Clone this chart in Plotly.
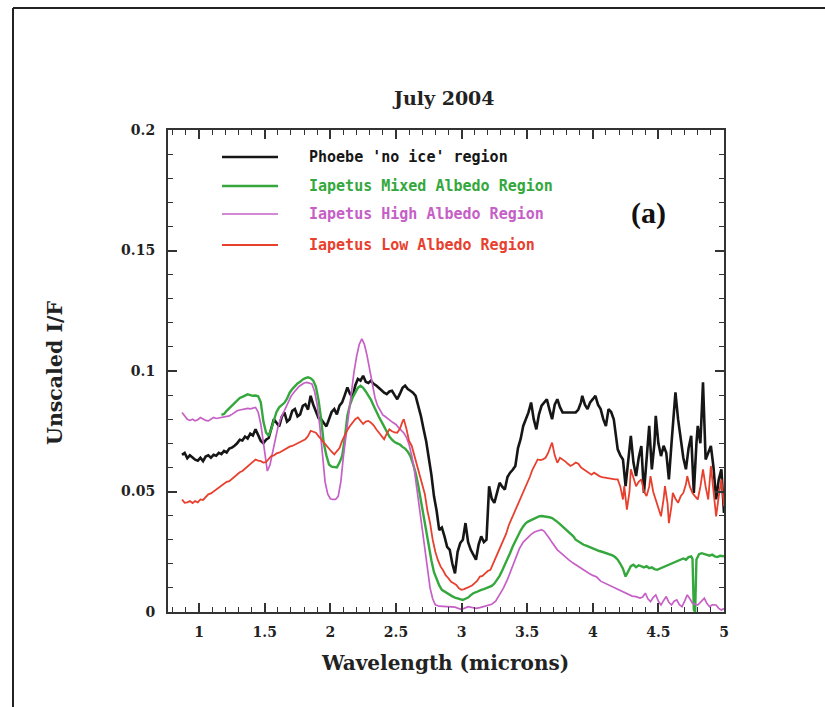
import plotly.graph_objects as go

# ---- Phoebe 'no ice' region ----
phoebe_wl = [0.87, 0.89, 0.91, 0.93, 0.95, 0.97, 0.99, 1.01, 1.03, 1.05, 1.07, 1.09, 1.11, 1.13, 1.15,
             1.17, 1.19, 1.21, 1.23, 1.25, 1.27, 1.29, 1.31, 1.33, 1.35, 1.37, 1.39, 1.41, 1.43, 1.45,
             1.47, 1.49, 1.51, 1.53, 1.55, 1.57, 1.59, 1.61, 1.63, 1.65, 1.67, 1.69, 1.71, 1.73, 1.75,
             1.77, 1.79, 1.81, 1.83, 1.85, 1.87, 1.89, 1.91, 1.93, 1.95, 1.97, 1.99, 2.01, 2.03, 2.05,
             2.07, 2.09, 2.11, 2.13, 2.15, 2.17, 2.19, 2.21, 2.23, 2.25, 2.27, 2.29, 2.31, 2.33, 2.35,
             2.37, 2.39, 2.41, 2.43, 2.45, 2.47, 2.49, 2.51, 2.53, 2.55, 2.57, 2.59, 2.61, 2.63, 2.65,
             2.67, 2.69, 2.71, 2.73, 2.75, 2.77, 2.79, 2.81, 2.83, 2.85, 2.87, 2.89, 2.91, 2.93, 2.95,
             2.97, 2.99, 3.01, 3.03, 3.05, 3.07, 3.09, 3.11, 3.13, 3.15, 3.17, 3.19, 3.21, 3.23, 3.25,
             3.27, 3.29, 3.31, 3.33, 3.35, 3.37, 3.39, 3.41, 3.43, 3.45, 3.47, 3.49, 3.51, 3.53, 3.55,
             3.57, 3.59, 3.61, 3.63, 3.65, 3.67, 3.69, 3.71, 3.73, 3.75, 3.77, 3.79, 3.83, 3.87, 3.89,
             3.91, 3.92, 3.94, 3.96, 3.98, 4.00, 4.02, 4.04, 4.06, 4.08, 4.10, 4.12, 4.14, 4.16, 4.19,
             4.21, 4.23, 4.25, 4.27, 4.29, 4.31, 4.33, 4.35, 4.37, 4.39, 4.41, 4.43, 4.45, 4.47, 4.48,
             4.50, 4.52, 4.54, 4.56, 4.58, 4.60, 4.62, 4.63, 4.65, 4.67, 4.69, 4.71, 4.73, 4.75, 4.77,
             4.79, 4.80, 4.82, 4.84, 4.86, 4.88, 4.90, 4.92, 4.94, 4.96, 4.98, 5.00]
phoebe_if = [0.0652, 0.0660, 0.0638, 0.0650, 0.0641, 0.0632, 0.0628, 0.0640, 0.0626, 0.0645, 0.0650, 0.0640, 0.0652, 0.0648, 0.0660,
             0.0655, 0.0668, 0.0662, 0.0678, 0.0682, 0.0690, 0.0700, 0.0715, 0.0712, 0.0728, 0.0720, 0.0740, 0.0732, 0.0758, 0.0735,
             0.0710, 0.0700, 0.0715, 0.0722, 0.0760, 0.0800, 0.0785, 0.0770, 0.0810, 0.0828, 0.0790, 0.0800, 0.0835, 0.0842, 0.0812,
             0.0820, 0.0855, 0.0862, 0.0840, 0.0897, 0.0860, 0.0828, 0.0805, 0.0800, 0.0785, 0.0770, 0.0800, 0.0830, 0.0842, 0.0820,
             0.0856, 0.0870, 0.0900, 0.0932, 0.0905, 0.0890, 0.0940, 0.0967, 0.0960, 0.0980, 0.0955, 0.0950, 0.0960, 0.0946, 0.0940,
             0.0928, 0.0920, 0.0910, 0.0904, 0.0915, 0.0918, 0.0900, 0.0883, 0.0905, 0.0930, 0.0939, 0.0925, 0.0918, 0.0910, 0.0897,
             0.0860, 0.0814, 0.0760, 0.0710, 0.0640, 0.0570, 0.0480, 0.0420, 0.0340, 0.0350, 0.0314, 0.0270, 0.0258, 0.0200, 0.0160,
             0.0250, 0.0286, 0.0300, 0.0369, 0.0290, 0.0258, 0.0240, 0.0217, 0.0280, 0.0314, 0.0290, 0.0300, 0.0522, 0.0470, 0.0453,
             0.0500, 0.0536, 0.0520, 0.0508, 0.0560, 0.0578, 0.0590, 0.0606, 0.0680, 0.0717, 0.0772, 0.0800, 0.0828, 0.0869, 0.0800,
             0.0758, 0.0820, 0.0856, 0.0870, 0.0883, 0.0840, 0.0800, 0.0860, 0.0883, 0.0850, 0.0828, 0.0828, 0.0828, 0.0828, 0.0840,
             0.0870, 0.0897, 0.0860, 0.0842, 0.0870, 0.0883, 0.0897, 0.0860, 0.0842, 0.0800, 0.0772, 0.0842, 0.0830, 0.0800, 0.0675,
             0.0650, 0.0633, 0.0522, 0.0640, 0.0731, 0.0620, 0.0564, 0.0640, 0.0689, 0.0494, 0.0640, 0.0772, 0.0592, 0.0700, 0.0814,
             0.0700, 0.0647, 0.0690, 0.0661, 0.0550, 0.0700, 0.0850, 0.0911, 0.0800, 0.0717, 0.0640, 0.0592, 0.0680, 0.0731, 0.0494,
             0.0700, 0.0772, 0.0700, 0.0953, 0.0633, 0.0660, 0.0689, 0.0600, 0.0467, 0.0550, 0.0592, 0.0411]

# ---- Iapetus Mixed Albedo Region ----
mixed_wl = [1.17, 1.19, 1.21, 1.23, 1.25, 1.27, 1.29, 1.31, 1.33, 1.35, 1.37, 1.39, 1.41, 1.43, 1.45,
            1.47, 1.49, 1.51, 1.53, 1.55, 1.57, 1.59, 1.61, 1.63, 1.65, 1.67, 1.69, 1.71, 1.73, 1.75,
            1.77, 1.79, 1.81, 1.83, 1.85, 1.87, 1.89, 1.91, 1.93, 1.95, 1.97, 1.99, 2.01, 2.03, 2.05,
            2.07, 2.09, 2.11, 2.13, 2.15, 2.17, 2.19, 2.21, 2.23, 2.25, 2.27, 2.29, 2.31, 2.33, 2.35,
            2.37, 2.39, 2.41, 2.43, 2.45, 2.47, 2.49, 2.51, 2.53, 2.55, 2.57, 2.59, 2.61, 2.63, 2.65,
            2.67, 2.69, 2.71, 2.73, 2.75, 2.77, 2.79, 2.81, 2.83, 2.85, 2.87, 2.89, 2.91, 2.93, 2.95,
            2.97, 2.99, 3.01, 3.03, 3.05, 3.07, 3.09, 3.11, 3.13, 3.15, 3.17, 3.19, 3.21, 3.23, 3.25,
            3.27, 3.29, 3.31, 3.33, 3.35, 3.37, 3.39, 3.41, 3.43, 3.45, 3.47, 3.49, 3.51, 3.53, 3.55,
            3.57, 3.59, 3.61, 3.63, 3.65, 3.67, 3.69, 3.71, 3.73, 3.75, 3.77, 3.79, 3.81, 3.83, 3.85,
            3.87, 3.89, 3.91, 3.93, 3.95, 3.97, 3.99, 4.01, 4.03, 4.05, 4.07, 4.09, 4.11, 4.13, 4.15,
            4.17, 4.19, 4.21, 4.23, 4.25, 4.27, 4.29, 4.31, 4.33, 4.35, 4.37, 4.39, 4.41, 4.43, 4.45,
            4.47, 4.49, 4.51, 4.53, 4.55, 4.57, 4.59, 4.61, 4.63, 4.65, 4.67, 4.69, 4.71, 4.73, 4.75,
            4.76, 4.77, 4.78, 4.79, 4.81, 4.83, 4.85, 4.87, 4.89, 4.91, 4.93, 4.95, 4.97, 5.00]
mixed_if = [0.0818, 0.0822, 0.0835, 0.0845, 0.0856, 0.0865, 0.0878, 0.0888, 0.0893, 0.0898, 0.0903, 0.0900, 0.0897, 0.0898, 0.0895,
            0.0870, 0.0790, 0.0745, 0.0731, 0.0760, 0.0800, 0.0830, 0.0849, 0.0860, 0.0868, 0.0885, 0.0910, 0.0925, 0.0938, 0.0948,
            0.0955, 0.0965, 0.0970, 0.0974, 0.0970, 0.0960, 0.0935, 0.0880, 0.0800, 0.0700, 0.0650, 0.0612, 0.0603, 0.0600, 0.0600,
            0.0620, 0.0647, 0.0720, 0.0814, 0.0860, 0.0890, 0.0910, 0.0930, 0.0939, 0.0930, 0.0915, 0.0900, 0.0880, 0.0856, 0.0830,
            0.0810, 0.0790, 0.0770, 0.0744, 0.0728, 0.0715, 0.0705, 0.0700, 0.0695, 0.0685, 0.0678, 0.0665, 0.0647, 0.0615, 0.0578,
            0.0525, 0.0460, 0.0395, 0.0330, 0.0270, 0.0215, 0.0165, 0.0138, 0.0110, 0.0092, 0.0085, 0.0076, 0.0070, 0.0065, 0.0060,
            0.0057, 0.0053, 0.0050, 0.0055, 0.0060, 0.0070, 0.0078, 0.0082, 0.0088, 0.0092, 0.0095, 0.0100, 0.0104, 0.0108, 0.0118,
            0.0132, 0.0150, 0.0172, 0.0195, 0.0215, 0.0245, 0.0272, 0.0295, 0.0318, 0.0338, 0.0355, 0.0369, 0.0376, 0.0381, 0.0386,
            0.0392, 0.0397, 0.0398, 0.0397, 0.0396, 0.0393, 0.0390, 0.0383, 0.0374, 0.0365, 0.0355, 0.0345, 0.0338, 0.0328, 0.0315,
            0.0300, 0.0292, 0.0285, 0.0279, 0.0275, 0.0270, 0.0265, 0.0262, 0.0258, 0.0253, 0.0250, 0.0247, 0.0244, 0.0240, 0.0235,
            0.0228, 0.0217, 0.0200, 0.0180, 0.0147, 0.0170, 0.0190, 0.0196, 0.0186, 0.0194, 0.0189, 0.0185, 0.0190, 0.0182, 0.0185,
            0.0178, 0.0175, 0.0180, 0.0184, 0.0189, 0.0192, 0.0198, 0.0203, 0.0210, 0.0214, 0.0217, 0.0222, 0.0217, 0.0228, 0.0231,
            0.0220, 0.0010, 0.0000, 0.0218, 0.0240, 0.0244, 0.0240, 0.0237, 0.0234, 0.0238, 0.0231, 0.0228, 0.0233, 0.0231]

# ---- Iapetus High Albedo Region ----
high_wl = [0.87, 0.89, 0.91, 0.93, 0.95, 0.97, 0.99, 1.01, 1.03, 1.05, 1.07, 1.09, 1.11, 1.13, 1.15,
           1.17, 1.19, 1.21, 1.23, 1.25, 1.27, 1.29, 1.31, 1.33, 1.35, 1.37, 1.39, 1.41, 1.43, 1.45,
           1.47, 1.49, 1.51, 1.52, 1.54, 1.56, 1.58, 1.60, 1.62, 1.64, 1.66, 1.68, 1.70, 1.72, 1.74,
           1.76, 1.78, 1.80, 1.82, 1.84, 1.86, 1.88, 1.90, 1.92, 1.94, 1.96, 1.98, 2.00, 2.02, 2.04,
           2.06, 2.08, 2.10, 2.12, 2.14, 2.16, 2.18, 2.20, 2.22, 2.24, 2.26, 2.28, 2.30, 2.32, 2.34,
           2.36, 2.38, 2.40, 2.42, 2.44, 2.46, 2.48, 2.50, 2.52, 2.54, 2.56, 2.58, 2.60, 2.62, 2.64,
           2.66, 2.68, 2.70, 2.72, 2.74, 2.76, 2.78, 2.80, 2.83, 2.87, 2.91, 2.95, 2.99, 3.02, 3.05,
           3.08, 3.11, 3.14, 3.17, 3.20, 3.23, 3.26, 3.29, 3.32, 3.35, 3.38, 3.41, 3.44, 3.47, 3.50,
           3.53, 3.56, 3.59, 3.61, 3.63, 3.65, 3.67, 3.69, 3.71, 3.73, 3.75, 3.77, 3.79, 3.82, 3.85,
           3.88, 3.91, 3.94, 3.97, 4.00, 4.03, 4.06, 4.09, 4.12, 4.15, 4.18, 4.21, 4.24, 4.27, 4.30,
           4.33, 4.36, 4.38, 4.40, 4.42, 4.44, 4.46, 4.48, 4.50, 4.52, 4.54, 4.56, 4.58, 4.60, 4.62,
           4.64, 4.66, 4.68, 4.70, 4.72, 4.74, 4.76, 4.78, 4.80, 4.82, 4.85, 4.87, 4.89, 4.91, 4.94,
           4.96, 4.98, 5.00]
high_if = [0.0828, 0.0815, 0.0800, 0.0795, 0.0800, 0.0793, 0.0798, 0.0807, 0.0800, 0.0795, 0.0793, 0.0800, 0.0807, 0.0803, 0.0805,
           0.0807, 0.0810, 0.0812, 0.0814, 0.0820, 0.0828, 0.0835, 0.0838, 0.0840, 0.0842, 0.0845, 0.0843, 0.0847, 0.0849, 0.0830,
           0.0780, 0.0703, 0.0620, 0.0585, 0.0610, 0.0660, 0.0717, 0.0765, 0.0800, 0.0825, 0.0845, 0.0870, 0.0895, 0.0910, 0.0925,
           0.0935, 0.0943, 0.0950, 0.0953, 0.0950, 0.0946, 0.0915, 0.0860, 0.0770, 0.0640, 0.0540, 0.0490, 0.0470, 0.0467, 0.0467,
           0.0480, 0.0540, 0.0647, 0.0740, 0.0814, 0.0900, 0.0994, 0.1060, 0.1110, 0.1133, 0.1110, 0.1064, 0.1000, 0.0939, 0.0890,
           0.0856, 0.0835, 0.0818, 0.0810, 0.0800, 0.0793, 0.0785, 0.0778, 0.0765, 0.0755, 0.0743, 0.0725, 0.0695, 0.0650, 0.0590,
           0.0510, 0.0430, 0.0350, 0.0260, 0.0180, 0.0100, 0.0055, 0.0030, 0.0024, 0.0022, 0.0022, 0.0020, 0.0012, 0.0015, 0.0022,
           0.0020, 0.0015, 0.0018, 0.0022, 0.0028, 0.0032, 0.0045, 0.0070, 0.0100, 0.0135, 0.0178, 0.0220, 0.0262, 0.0290, 0.0308,
           0.0322, 0.0333, 0.0340, 0.0342, 0.0335, 0.0322, 0.0305, 0.0288, 0.0272, 0.0258, 0.0248, 0.0238, 0.0228, 0.0215, 0.0203,
           0.0192, 0.0182, 0.0172, 0.0161, 0.0152, 0.0145, 0.0128, 0.0120, 0.0112, 0.0104, 0.0096, 0.0090, 0.0080, 0.0071, 0.0066,
           0.0064, 0.0058, 0.0062, 0.0078, 0.0055, 0.0043, 0.0060, 0.0071, 0.0045, 0.0029, 0.0048, 0.0064, 0.0040, 0.0029, 0.0045,
           0.0050, 0.0030, 0.0022, 0.0045, 0.0071, 0.0055, 0.0036, 0.0032, 0.0029, 0.0040, 0.0057, 0.0035, 0.0022, 0.0030, 0.0029,
           0.0015, 0.0008, 0.0015]

# ---- Iapetus Low Albedo Region ----
low_wl = [0.87, 0.89, 0.91, 0.93, 0.95, 0.97, 0.99, 1.01, 1.03, 1.05, 1.07, 1.09, 1.11, 1.13, 1.15,
          1.17, 1.19, 1.21, 1.23, 1.25, 1.27, 1.29, 1.31, 1.33, 1.35, 1.37, 1.39, 1.41, 1.43, 1.45,
          1.47, 1.49, 1.51, 1.53, 1.55, 1.57, 1.59, 1.61, 1.63, 1.65, 1.67, 1.69, 1.71, 1.73, 1.75,
          1.77, 1.79, 1.81, 1.83, 1.85, 1.87, 1.89, 1.91, 1.93, 1.95, 1.97, 1.99, 2.01, 2.03, 2.05,
          2.07, 2.09, 2.11, 2.13, 2.15, 2.17, 2.19, 2.21, 2.23, 2.25, 2.27, 2.29, 2.31, 2.33, 2.35,
          2.37, 2.39, 2.41, 2.43, 2.45, 2.47, 2.49, 2.51, 2.53, 2.55, 2.56, 2.58, 2.60, 2.62, 2.64,
          2.66, 2.68, 2.70, 2.72, 2.74, 2.76, 2.78, 2.80, 2.82, 2.84, 2.86, 2.88, 2.90, 2.92, 2.94,
          2.96, 2.98, 3.00, 3.02, 3.04, 3.06, 3.08, 3.10, 3.12, 3.14, 3.16, 3.18, 3.20, 3.22, 3.24,
          3.26, 3.28, 3.30, 3.32, 3.34, 3.36, 3.38, 3.40, 3.42, 3.44, 3.46, 3.48, 3.50, 3.52, 3.54,
          3.56, 3.58, 3.60, 3.62, 3.64, 3.66, 3.68, 3.69, 3.71, 3.73, 3.75, 3.77, 3.79, 3.81, 3.83,
          3.85, 3.87, 3.89, 3.91, 3.93, 3.95, 3.97, 3.99, 4.01, 4.03, 4.05, 4.07, 4.09, 4.11, 4.13,
          4.15, 4.17, 4.19, 4.21, 4.23, 4.24, 4.26, 4.28, 4.29, 4.31, 4.33, 4.35, 4.37, 4.39, 4.41,
          4.43, 4.44, 4.46, 4.48, 4.50, 4.52, 4.54, 4.55, 4.57, 4.58, 4.60, 4.61, 4.63, 4.65, 4.67,
          4.69, 4.71, 4.72, 4.74, 4.76, 4.78, 4.80, 4.82, 4.84, 4.86, 4.88, 4.90, 4.92, 4.94, 4.96,
          4.98, 5.00]
low_if = [0.0467, 0.0453, 0.0455, 0.0460, 0.0452, 0.0460, 0.0455, 0.0467, 0.0465, 0.0478, 0.0488, 0.0492, 0.0500, 0.0505, 0.0515,
          0.0522, 0.0530, 0.0540, 0.0543, 0.0552, 0.0564, 0.0570, 0.0580, 0.0585, 0.0595, 0.0606, 0.0612, 0.0625, 0.0633, 0.0628,
          0.0626, 0.0620, 0.0622, 0.0635, 0.0647, 0.0650, 0.0658, 0.0661, 0.0668, 0.0675, 0.0680, 0.0686, 0.0689, 0.0695, 0.0700,
          0.0705, 0.0710, 0.0717, 0.0730, 0.0752, 0.0748, 0.0744, 0.0730, 0.0717, 0.0700, 0.0690, 0.0675, 0.0665, 0.0654, 0.0668,
          0.0680, 0.0710, 0.0735, 0.0755, 0.0772, 0.0785, 0.0800, 0.0807, 0.0795, 0.0780, 0.0790, 0.0793, 0.0785, 0.0775, 0.0758,
          0.0745, 0.0730, 0.0717, 0.0740, 0.0758, 0.0750, 0.0745, 0.0744, 0.0760, 0.0790, 0.0800, 0.0760, 0.0710, 0.0690, 0.0650,
          0.0620, 0.0580, 0.0530, 0.0490, 0.0420, 0.0370, 0.0300, 0.0250, 0.0215, 0.0189, 0.0172, 0.0152, 0.0140, 0.0125, 0.0119,
          0.0112, 0.0098, 0.0092, 0.0095, 0.0100, 0.0106, 0.0110, 0.0120, 0.0130, 0.0147, 0.0150, 0.0160, 0.0170, 0.0175, 0.0200,
          0.0230, 0.0250, 0.0275, 0.0300, 0.0325, 0.0360, 0.0385, 0.0410, 0.0435, 0.0455, 0.0480, 0.0508, 0.0535, 0.0560, 0.0590,
          0.0612, 0.0633, 0.0630, 0.0633, 0.0640, 0.0660, 0.0690, 0.0703, 0.0650, 0.0619, 0.0640, 0.0633, 0.0625, 0.0615, 0.0606,
          0.0612, 0.0620, 0.0615, 0.0600, 0.0592, 0.0585, 0.0575, 0.0570, 0.0578, 0.0570, 0.0564, 0.0560, 0.0558, 0.0555, 0.0552,
          0.0550, 0.0550, 0.0550, 0.0520, 0.0467, 0.0522, 0.0425, 0.0500, 0.0592, 0.0560, 0.0522, 0.0540, 0.0550, 0.0500, 0.0481,
          0.0520, 0.0564, 0.0500, 0.0467, 0.0430, 0.0397, 0.0470, 0.0522, 0.0450, 0.0369, 0.0440, 0.0494, 0.0470, 0.0453, 0.0480,
          0.0494, 0.0530, 0.0564, 0.0520, 0.0494, 0.0480, 0.0467, 0.0520, 0.0592, 0.0520, 0.0467, 0.0606, 0.0500, 0.0397, 0.0480,
          0.0550, 0.0439]

series_names = ["Phoebe 'no ice' region", "Iapetus Mixed Albedo Region",
                "Iapetus High Albedo Region", "Iapetus Low Albedo Region"]
series_colors = ["#161616", "#34a83c", "#c660c6", "#e8402e"]
series_widths = [2.6, 2.4, 1.7, 1.8]
series_data = [(phoebe_wl, phoebe_if), (mixed_wl, mixed_if), (high_wl, high_if), (low_wl, low_if)]

x_ticks = [1, 1.5, 2, 2.5, 3, 3.5, 4, 4.5, 5]
y_ticks = [0, 0.05, 0.1, 0.15, 0.2]

SERIF = "DejaVu Serif"
MONO = "DejaVu Sans Mono"
INK = "#222222"

fig = go.Figure()
for (wl, val), name, col, w in zip(series_data, series_names, series_colors, series_widths):
    fig.add_trace(go.Scatter(x=wl, y=val, mode="lines", name=name,
                             line=dict(color=col, width=w), showlegend=False))

# plot area in pixels: x 168..724, y 130..612 (figure 825 x 707)
L, R, T, B = 168, 724, 130, 612
W, H = R - L, B - T


def px(x):
    return (x - L) / W


def py(y):
    return (B - y) / H


axis_common = dict(showgrid=False, zeroline=False, showline=True, linecolor="#333333", linewidth=2,
                   ticks="inside", ticklen=9, tickwidth=1.6, tickcolor="#333333", mirror="ticks",
                   tickfont=dict(family=SERIF, size=14, color=INK, weight="bold"))

fig.update_xaxes(range=[0.763, 5.0], tickvals=x_ticks, ticklabelstandoff=6,
                 minor=dict(dtick=0.1, tick0=0, ticks="inside", ticklen=5, tickwidth=1.3, tickcolor="#333333"),
                 **axis_common)
fig.update_yaxes(range=[0, 0.2], tickvals=y_ticks, ticklabelstandoff=8,
                 minor=dict(dtick=0.01, tick0=0, ticks="inside", ticklen=5, tickwidth=1.3, tickcolor="#333333"),
                 **axis_common)

annotations = [
    dict(text="July 2004", x=px(443), y=py(98), font=dict(family=SERIF, size=19, color=INK, weight="bold")),
    dict(text="Wavelength (microns)", x=px(445), y=py(663), font=dict(family=SERIF, size=20, color=INK, weight="bold")),
    dict(text="Unscaled I/F", x=px(55), y=py(373), textangle=-90,
         font=dict(family=SERIF, size=20.5, color=INK, weight="bold")),
    dict(text="(a)", x=px(648), y=py(213), font=dict(family="Liberation Serif", size=30, color="#111111", weight="bold")),
]

# legend: sample segment + coloured label for each series
legend_rows = [157, 186, 214, 245]
shapes = []
for name, col, w, row in zip(series_names, series_colors, series_widths, legend_rows):
    shapes.append(dict(type="line", xref="paper", yref="paper", x0=px(222), x1=px(278), y0=py(row), y1=py(row),
                       line=dict(color=col, width=w)))
    annotations.append(dict(text=name, x=px(307), y=py(row), xanchor="left",
                            font=dict(family=MONO, size=15, color=col, weight="bold")))

# page frame (top and left edges)
shapes.append(dict(type="line", xref="paper", yref="paper", x0=px(13), x1=px(826), y0=py(8), y1=py(8),
                   line=dict(color="#222222", width=2)))
shapes.append(dict(type="line", xref="paper", yref="paper", x0=px(13), x1=px(13), y0=py(8), y1=py(708),
                   line=dict(color="#222222", width=2)))

for a in annotations:
    a.setdefault("xanchor", "center")
    a.update(xref="paper", yref="paper", yanchor="middle", showarrow=False)

fig.update_layout(width=825, height=707, margin=dict(l=L, r=825 - R, t=T, b=707 - B),
                  paper_bgcolor="white", plot_bgcolor="white",
                  annotations=annotations, shapes=shapes)

fig.write_html("out.html")
